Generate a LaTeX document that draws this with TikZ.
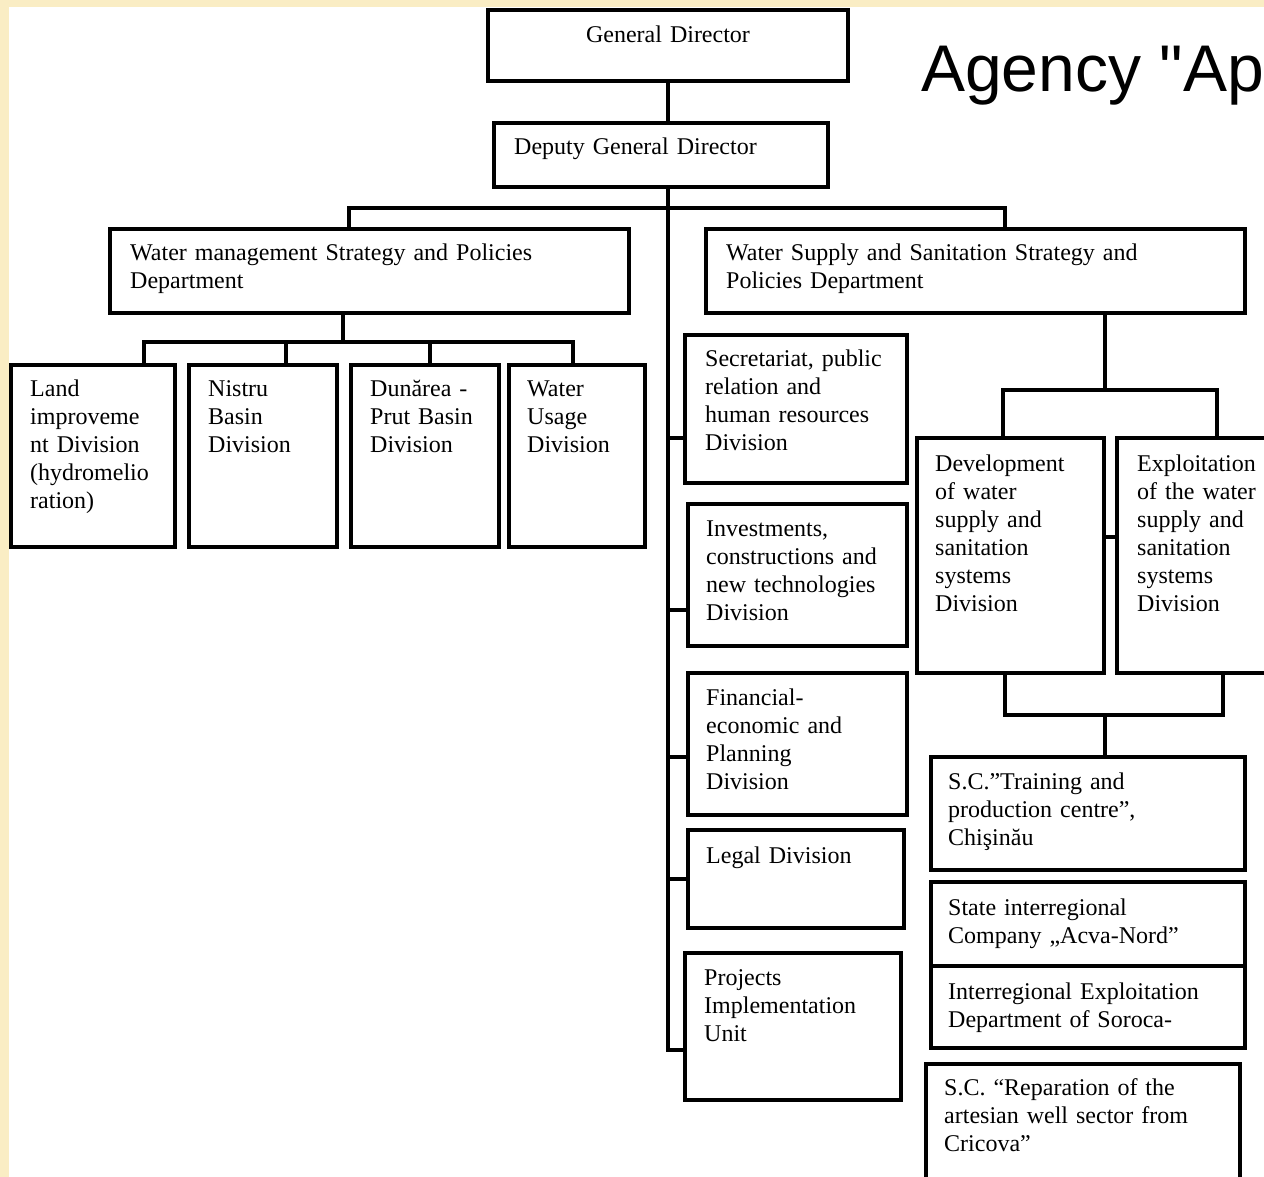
\documentclass[tikz,border=0pt]{standalone}
\usepackage{fontspec}
\setmainfont{Liberation Serif}
\newfontfamily\titlefont{Liberation Sans}
\definecolor{paper}{HTML}{FAEDC4}
\begin{document}
\begin{tikzpicture}
    [x=1pt,y=-1pt,
     unit/.style={draw=black,line width=4pt,inner sep=0pt,outer sep=0pt,anchor=north west},
     lbl/.style={anchor=base west,align=left,text width=420pt,inner sep=0pt,font=\fontsize{24}{28}\selectfont},
     link/.style={draw=black,line width=3.5pt,line cap=rect}]
    \useasboundingbox (0,0) rectangle (1264,1177);
    \clip (0,0) rectangle (1264,1177);
    \fill [paper] (0,0) rectangle (1264,1177);
    \fill [white] (9,7) rectangle (1264,1177);
    % boxes
    \node [unit,minimum width=360,minimum height=71] (gd) at (488,10) {};
    \node [unit,minimum width=334,minimum height=64] (dep) at (494,123) {};
    \node [unit,minimum width=519,minimum height=84] (wm) at (110,229) {};
    \node [unit,minimum width=539,minimum height=84] (wss) at (706,229) {};
    \node [unit,minimum width=164,minimum height=182] (land) at (11,365) {};
    \node [unit,minimum width=148,minimum height=182] (nis) at (189,365) {};
    \node [unit,minimum width=148,minimum height=182] (dun) at (351,365) {};
    \node [unit,minimum width=136,minimum height=182] (use) at (509,365) {};
    \node [unit,minimum width=222,minimum height=148] (secr) at (685,335) {};
    \node [unit,minimum width=219,minimum height=142] (inv) at (688,504) {};
    \node [unit,minimum width=219,minimum height=142] (fin) at (688,673) {};
    \node [unit,minimum width=216,minimum height=98] (leg) at (688,830) {};
    \node [unit,minimum width=216,minimum height=147] (prj) at (685,953) {};
    \node [unit,minimum width=187,minimum height=235] (dev) at (917,438) {};
    \node [unit,minimum width=200,minimum height=235] (expl) at (1117,438) {};
    \node [unit,minimum width=314,minimum height=113] (trn) at (931,757) {};
    \node [unit,minimum width=314,minimum height=84] (st) at (931,882) {};
    \node [unit,minimum width=314,minimum height=82] (ie) at (931,966) {};
    \node [unit,minimum width=314,minimum height=150] (rep) at (926,1064) {};
    % texts
    \node [lbl,anchor=base,align=center] (gd-t) at ([yshift=-33pt]gd.north) {General Director};
    \node [lbl] (dep-t) at ([shift={(20,32)}]dep.north west) {Deputy General Director};
    \node [lbl] (wm-t) at ([shift={(20,32)}]wm.north west) {Water management Strategy and Policies\\Department};
    \node [lbl] (wss-t) at ([shift={(20,32)}]wss.north west) {Water Supply and Sanitation Strategy and\\Policies Department};
    \node [lbl] (land-t) at ([shift={(19,31)}]land.north west) {Land\\improveme\\nt Division\\(hydromelio\\ration)};
    \node [lbl] (nis-t) at ([shift={(19,31)}]nis.north west) {Nistru\\Basin\\Division};
    \node [lbl] (dun-t) at ([shift={(19,31)}]dun.north west) {Dunărea -\\Prut Basin\\Division};
    \node [lbl] (use-t) at ([shift={(18,31)}]use.north west) {Water\\Usage\\Division};
    \node [lbl] (secr-t) at ([shift={(20,31)}]secr.north west) {Secretariat, public\\relation and\\human resources\\Division};
    \node [lbl] (inv-t) at ([shift={(18,32)}]inv.north west) {Investments,\\constructions and\\new technologies\\Division};
    \node [lbl] (fin-t) at ([shift={(18,32)}]fin.north west) {Financial-\\economic and\\Planning\\Division};
    \node [lbl] (leg-t) at ([shift={(18,33)}]leg.north west) {Legal Division};
    \node [lbl] (prj-t) at ([shift={(19,32)}]prj.north west) {Projects\\Implementation\\Unit};
    \node [lbl] (dev-t) at ([shift={(18,33)}]dev.north west) {Development\\of water\\supply and\\sanitation\\systems\\Division};
    \node [lbl] (expl-t) at ([shift={(20,33)}]expl.north west) {Exploitation\\of the water\\supply and\\sanitation\\systems\\Division};
    \node [lbl] (trn-t) at ([shift={(17,32)}]trn.north west) {S.C.”Training and\\production centre”,\\Chişinău};
    \node [lbl] (st-t) at ([shift={(17,33)}]st.north west) {State interregional\\Company „Acva-Nord”};
    \node [lbl] (ie-t) at ([shift={(17,33)}]ie.north west) {Interregional Exploitation\\Department of Soroca-};
    \node [lbl] (rep-t) at ([shift={(18,31)}]rep.north west) {S.C. “Reparation of the\\artesian well sector from\\Cricova”};
    \node [anchor=base west,inner sep=0pt,font=\titlefont\fontsize{66}{70}\selectfont] (ttl) at (921,92) {Agency "Ap};
    % connectors
    \coordinate (bus1) at (668,208);
    \coordinate (bus2) at (343,342);
    \coordinate (bus3) at (1105,390);
    \coordinate (bus4) at (1105,715);
    \draw [link] (gd.south) -- (gd |- dep.north);
    \foreach \n/\s in {secr/-29,inv/-35,fin/-13,leg/0,prj/-23.5}
      \draw [link] ([yshift=\s pt]\n.west) -| (gd |- dep.south);
    \draw [link] ([xshift=-20.5pt]wm.north) |- (bus1) -| ([xshift=29.5pt]wss.north);
    \draw [link] (bus2 |- wm.south) -- (bus2);
    \foreach \n/\s in {land/51,nis/23,dun/5,use/-4}
      \draw [link] ([xshift=\s pt]\n.north) |- (bus2);
    \draw [link] (bus3 |- wss.south) -- (bus3);
    \draw [link] ([xshift=-7.5pt]dev.north) |- (bus3) -| (expl.north);
    \draw [link] ([yshift=18.5pt]dev.east) -- ([yshift=18.5pt]expl.west);
    \draw [link] ([xshift=-5.5pt]dev.south) |- (bus4) -| ([xshift=6pt]expl.south);
    \draw [link] (bus4) -- (bus4 |- trn.north);
  \end{tikzpicture}
\end{document}
